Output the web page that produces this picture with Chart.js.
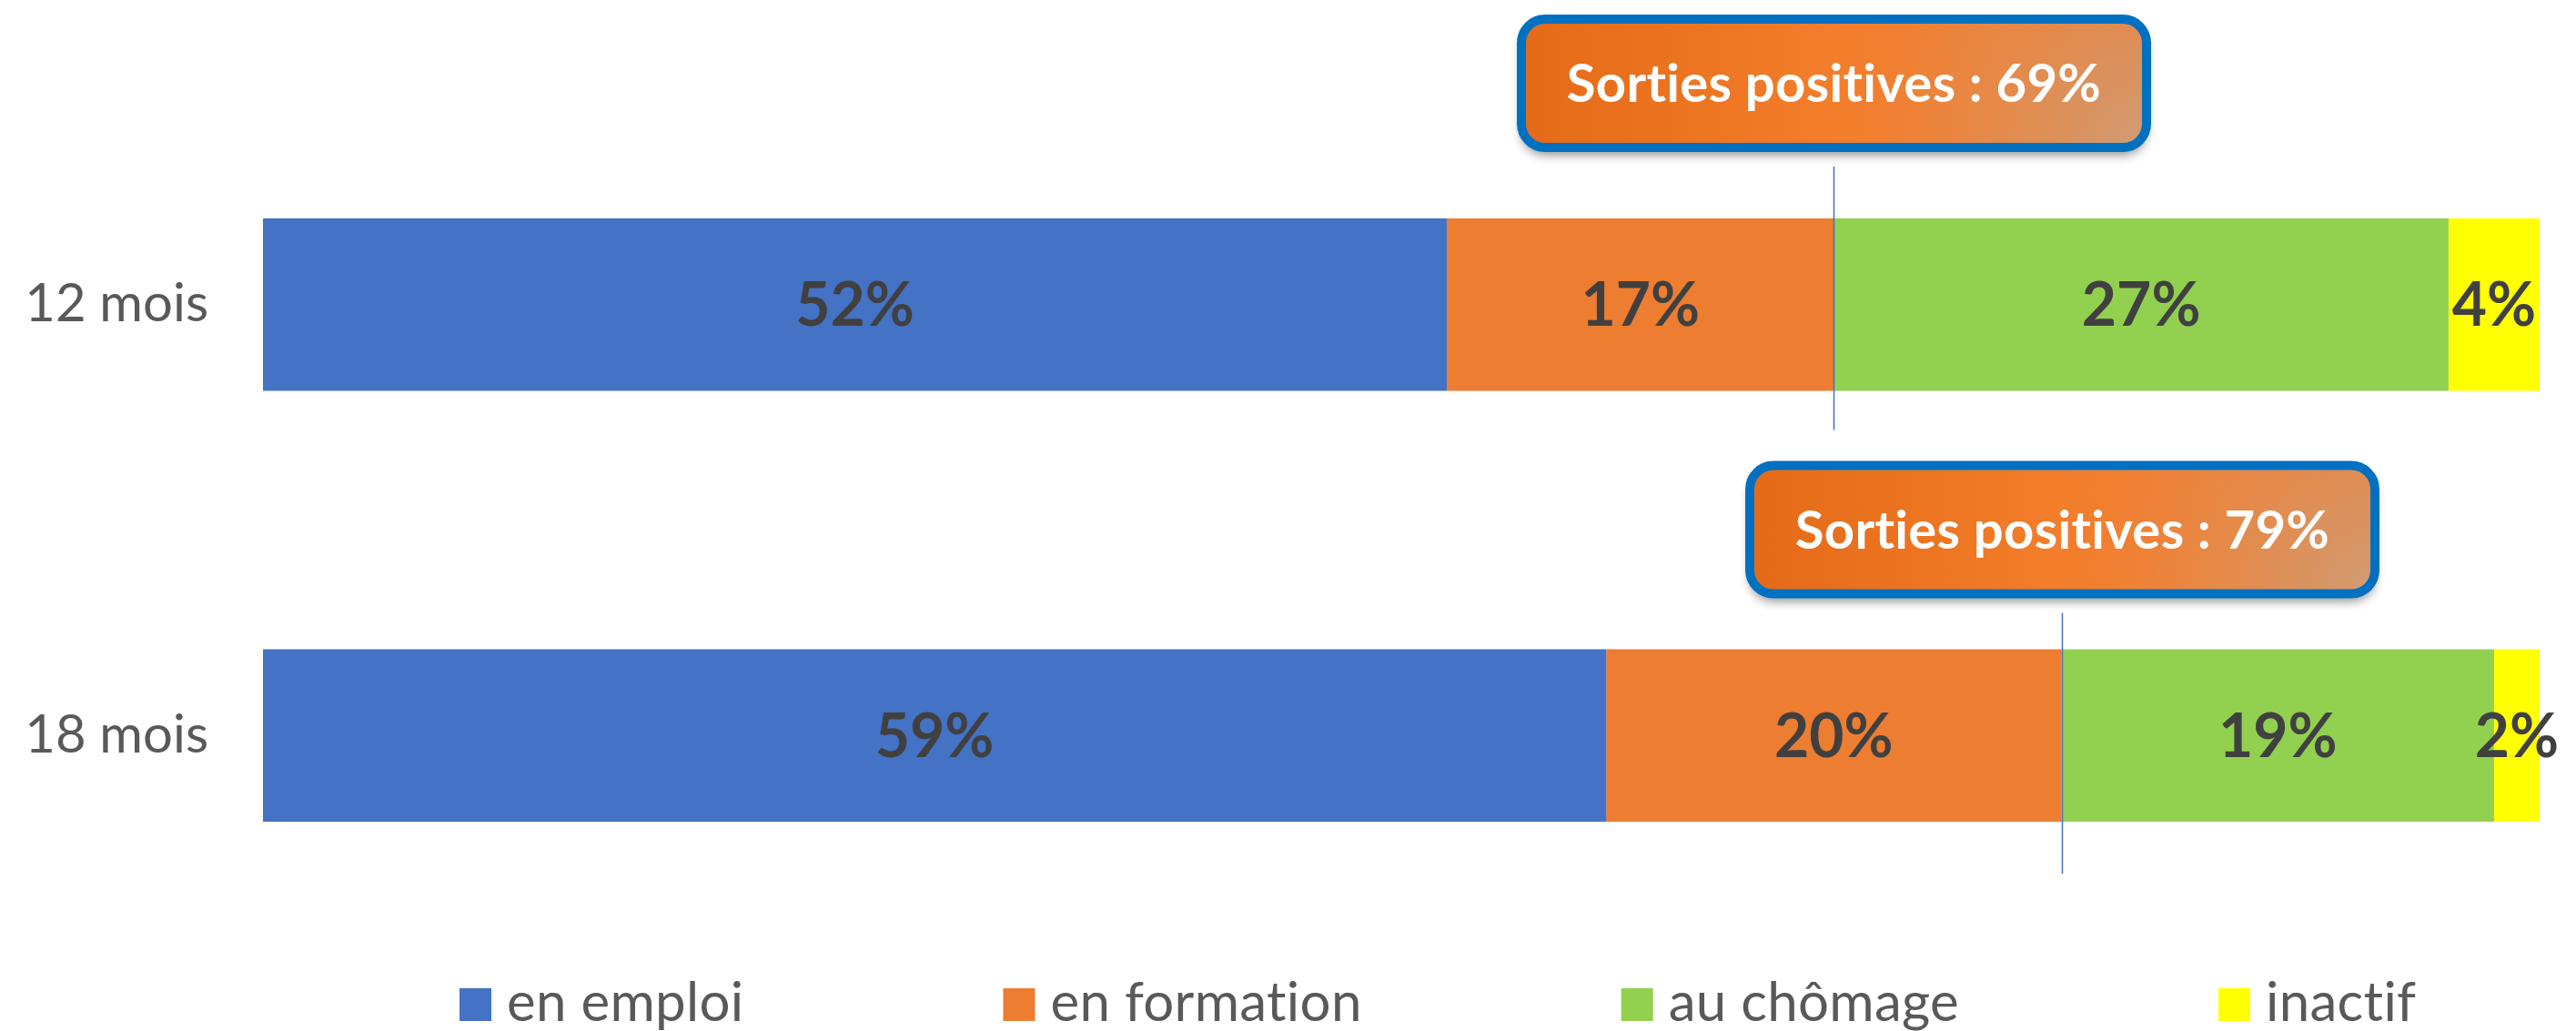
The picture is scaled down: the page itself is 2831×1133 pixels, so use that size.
<!DOCTYPE html>
<html>
<head>
<meta charset="utf-8">
<script src="https://cdn.jsdelivr.net/npm/chart.js@4.4.0/dist/chart.umd.min.js"></script>
<style>
  html, body { margin: 0; padding: 0; background: #ffffff; }
  #wrap { width: 2831px; height: 1133px; }
</style>
</head>
<body>
<div id="wrap"><canvas id="chart" width="2831" height="1133"></canvas></div>
<script>
// Data
const categories = ['12 mois', '18 mois'];
const seriesNames = ['en emploi', 'en formation', 'au chômage', 'inactif'];
const enEmploi = [52, 59];
const enFormation = [17, 20];
const auChomage = [27, 19];
const inactif = [4, 2];

const colors = ['#4472C4', '#ED7D31', '#92D050', '#FFFF00'];
const FONT = 'Lato, "Open Sans", sans-serif';

// Callout offsets (gap box-to-bar, line overshoot under bar), per category
const calloutGap = [73, 56];
const calloutTail = [43, 57];

// no ligatures (Lato joins "ti")
function noLig(ctx) {
    if ('letterSpacing' in ctx) ctx.letterSpacing = '0.3px';
}

// Draw percentage labels in the middle of each segment
const segmentLabels = {
    id: 'segmentLabels',
    afterDatasetsDraw(chart) {
        const ctx = chart.ctx;
        ctx.save();
        ctx.font = 'bold 66px ' + FONT;
        ctx.fillStyle = '#404040';
        ctx.textAlign = 'center';
        ctx.textBaseline = 'middle';
        chart.data.datasets.forEach((ds, di) => {
            chart.getDatasetMeta(di).data.forEach((bar, i) => {
                const x = (bar.x + bar.base) / 2;
                ctx.fillText(ds.data[i] + '%', x, bar.y + 2);
            });
        });
        ctx.restore();
    }
};

// "Sorties positives" callouts with connector line
const callouts = {
    id: 'callouts',
    afterDraw(chart) {
        const ctx = chart.ctx;
        const xScale = chart.scales.x;
        const bars = chart.getDatasetMeta(0).data;
        ctx.save();
        categories.forEach((c, i) => {
            const total = enEmploi[i] + enFormation[i];
            const x = Math.round(xScale.getPixelForValue(total)) + 0.5;
            const bar = bars[i];
            const barTop = bar.y - bar.height / 2;
            const barBottom = bar.y + bar.height / 2;

            const boxW = 687, boxH = 141, border = 10;
            const boxBottom = barTop - calloutGap[i] - border / 2;
            const boxTop = boxBottom - boxH;
            const boxLeft = x - boxW / 2;

            // connector line
            ctx.strokeStyle = '#4472C4';
            ctx.lineWidth = 1.5;
            ctx.beginPath();
            ctx.moveTo(x, boxBottom + border / 2 + 16);
            ctx.lineTo(x, barBottom + calloutTail[i]);
            ctx.stroke();

            // shadow + fill
            const grad = ctx.createLinearGradient(boxLeft, 0, boxLeft + boxW, 0);
            grad.addColorStop(0, '#E46A17');
            grad.addColorStop(0.48, '#F37D2A');
            grad.addColorStop(0.75, '#EE8238');
            grad.addColorStop(1, '#E8823F');
            ctx.save();
            ctx.shadowColor = 'rgba(0,0,0,0.45)';
            ctx.shadowBlur = 12;
            ctx.shadowOffsetY = 8;
            ctx.beginPath();
            ctx.roundRect(boxLeft, boxTop, boxW, boxH, 26);
            ctx.fillStyle = grad;
            ctx.fill();
            ctx.restore();

            // soft light patch bottom right
            ctx.save();
            ctx.beginPath();
            ctx.roundRect(boxLeft, boxTop, boxW, boxH, 26);
            ctx.clip();
            const cx = boxLeft + boxW, cy = boxTop + boxH;
            const rg = ctx.createRadialGradient(cx, cy, 0, cx, cy, boxW * 0.45);
            rg.addColorStop(0, 'rgba(205,160,125,0.9)');
            rg.addColorStop(0.5, 'rgba(215,150,100,0.45)');
            rg.addColorStop(1, 'rgba(230,140,80,0)');
            ctx.fillStyle = rg;
            ctx.fillRect(boxLeft, boxTop, boxW, boxH);
            ctx.restore();

            // border
            ctx.beginPath();
            ctx.roundRect(boxLeft, boxTop, boxW, boxH, 26);
            ctx.strokeStyle = '#0070C0';
            ctx.lineWidth = border;
            ctx.stroke();

            // text
            ctx.save();
            ctx.font = 'bold 58px ' + FONT;
            noLig(ctx);
            ctx.fillStyle = '#FFFFFF';
            ctx.textAlign = 'center';
            ctx.textBaseline = 'middle';
            ctx.fillText('Sorties positives : ' + total + '%', x, boxTop + boxH / 2 + 2);
            ctx.restore();
        });
        ctx.restore();
    }
};

// Bottom legend with wide spacing
const bottomLegend = {
    id: 'bottomLegend',
    afterDraw(chart) {
        const ctx = chart.ctx;
        const boxW = 35, boxH = 36, textGap = 17, itemGap = 285;
        const baseline = 1122;
        ctx.save();
        ctx.font = '60px ' + FONT;
        noLig(ctx);
        ctx.textBaseline = 'alphabetic';
        ctx.textAlign = 'left';
        let x = 505;
        seriesNames.forEach((name, i) => {
            ctx.fillStyle = colors[i];
            ctx.fillRect(x, baseline - boxH, boxW, boxH);
            x += boxW + textGap;
            ctx.fillStyle = '#595959';
            ctx.fillText(name, x, baseline);
            x += ctx.measureText(name).width + itemGap;
        });
        ctx.restore();
    }
};

const seriesData = [enEmploi, enFormation, auChomage, inactif];

new Chart(document.getElementById('chart'), {
    type: 'bar',
    data: {
        labels: categories,
        datasets: seriesNames.map((name, i) => ({
            label: name,
            data: seriesData[i],
            backgroundColor: colors[i],
            borderWidth: 0,
            barPercentage: 0.4,
            categoryPercentage: 1
        }))
    },
    options: {
        indexAxis: 'y',
        responsive: false,
        animation: false,
        layout: { padding: { top: 98, right: 40, bottom: 88, left: 0 } },
        plugins: {
            legend: { display: false },
            tooltip: { enabled: false }
        },
        scales: {
            x: { stacked: true, min: 0, max: 100, display: false },
            y: {
                stacked: true,
                grid: { display: false, drawTicks: false },
                border: { display: false },
                ticks: {
                    padding: 60,
                    color: '#595959',
                    font: { family: FONT, size: 58 }
                },
                afterFit(scale) {
                    scale.width = 289;
                    scale.paddingTop = 0;
                    scale.paddingBottom = 0;
                }
            }
        }
    },
    plugins: [segmentLabels, callouts, bottomLegend]
});
</script>
</body>
</html>
